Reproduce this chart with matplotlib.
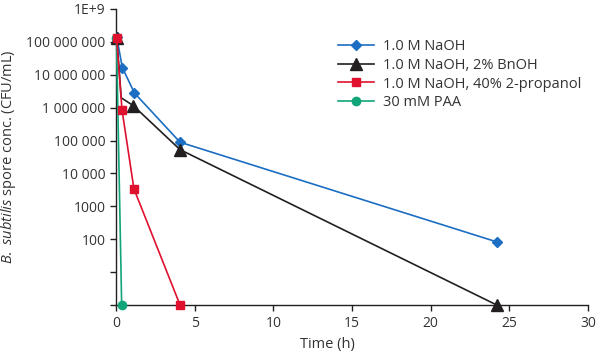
import matplotlib
matplotlib.use("Agg")
import matplotlib.pyplot as plt
from matplotlib.ticker import FixedLocator, FixedFormatter

plt.rcParams['font.family'] = ['Open Sans', 'DejaVu Sans']
plt.rcParams['mathtext.fontset'] = 'custom'
plt.rcParams['mathtext.it'] = 'Open Sans:italic'
plt.rcParams['mathtext.rm'] = 'Open Sans'

TXT = '#333333'

# Data
t_naoh = [0.05, 0.40, 1.17, 4.07, 24.2]
v_naoh = [1.4e8, 1.66e7, 2.8e6, 8.9e4, 83]

t_bnoh = [0.05, 0.33, 1.10, 4.07, 24.2]
v_bnoh = [1.3e8, 2.0e6, 1.15e6, 5.3e4, 1]

t_prop = [0.04, 0.38, 1.14, 4.07]
v_prop = [1.3e8, 8.7e5, 3.4e3, 1]

t_paa = [0.03, 0.36]
v_paa = [1.3e8, 1]

labels = ["1.0 M NaOH", "1.0 M NaOH, 2% BnOH", "1.0 M NaOH, 40% 2-propanol", "30 mM PAA"]
colors = ["#1b6ec2", "#231f20", "#e0102f", "#12a57a"]

y_ticks = [1, 10, 100, 1000, 1e4, 1e5, 1e6, 1e7, 1e8, 1e9]
y_tick_labels = ["", "", "100", "1000", "10 000", "100 000", "1 000 000",
                 "10 000 000", "100 000 000", "1E+9"]
x_ticks = [0, 5, 10, 15, 20, 25, 30]

fig = plt.figure(figsize=(6.0, 3.52), dpi=100)
ax = fig.add_axes([116/600, 47/352, 472/600, 296/352])

ax.plot(t_naoh, v_naoh, color=colors[0], marker='D', ms=5.5, lw=1.2, label=labels[0], zorder=3)
ax.plot(t_bnoh, v_bnoh, color=colors[1], marker='^', ms=8, lw=1.2, label=labels[1],
        markevery=[0, 2, 3, 4], zorder=3, clip_on=False)
ax.plot(t_paa, v_paa, color=colors[3], marker='o', ms=6, lw=1.2, label=labels[3], zorder=4, clip_on=False)
ax.plot(t_prop, v_prop, color=colors[2], marker='s', ms=6, lw=1.2, label=labels[2], zorder=5, clip_on=False)

ax.set_yscale('log')
ax.set_ylim(1, 1e9)
ax.set_xlim(0, 30)
ax.yaxis.set_major_locator(FixedLocator(y_ticks))
ax.yaxis.set_major_formatter(FixedFormatter(y_tick_labels))
ax.yaxis.set_minor_locator(FixedLocator([]))
ax.set_xticks(x_ticks)

for s in ['top', 'right']:
    ax.spines[s].set_visible(False)
for s in ['left', 'bottom']:
    ax.spines[s].set_color('#231f20')
    ax.spines[s].set_linewidth(1.0)
ax.tick_params(axis='both', direction='out', length=4.5, width=1.0, colors='#231f20',
               labelcolor=TXT, labelsize=10)
ax.tick_params(axis='y', pad=3)

ax.set_xlabel("Time (h)", fontsize=10.5, color=TXT)
ax.xaxis.set_label_coords(0.447, -0.108)
ax.set_ylabel(r"$\mathit{B.\ subtilis}$ spore conc. (CFU/mL)", fontsize=10.5, color=TXT)
ax.yaxis.set_label_coords(-0.208, 0.5)

handles, labs = ax.get_legend_handles_labels()
order = [labs.index(l) for l in labels]
leg = ax.legend([handles[i] for i in order], [labs[i] for i in order],
                loc='upper left', bbox_to_anchor=(222/472, 1 - 30/296), frameon=False,
                fontsize=10.5, handlelength=2.5, handletextpad=0.6, labelspacing=0.26,
                borderpad=0, borderaxespad=0)
for t in leg.get_texts():
    t.set_color(TXT)

fig.savefig("out.png", dpi=100)
